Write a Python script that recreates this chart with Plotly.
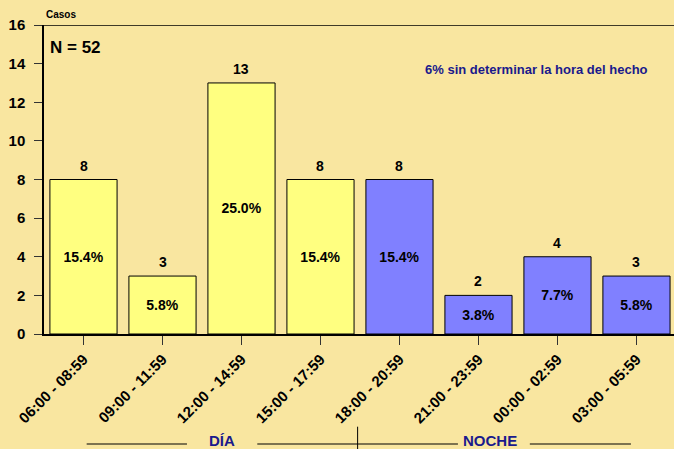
import plotly.graph_objects as go

franjas = ["06:00 - 08:59", "09:00 - 11:59", "12:00 - 14:59", "15:00 - 17:59",
           "18:00 - 20:59", "21:00 - 23:59", "00:00 - 02:59", "03:00 - 05:59"]
casos = [8, 3, 13, 8, 8, 2, 4, 3]
porcentajes = ["15.4%", "5.8%", "25.0%", "15.4%", "15.4%", "3.8%", "7.7%", "5.8%"]
periodo = ["DÍA"] * 4 + ["NOCHE"] * 4
y_ticks = list(range(0, 17, 2))

BG = "#F9E6A0"
NAVY = "#1A1A8C"
FONT = "Liberation Sans, Arial, sans-serif"
colores = ["#FFFF80" if p == "DÍA" else "#8080FF" for p in periodo]
x = list(range(len(franjas)))

fig = go.Figure()
fig.add_bar(
    x=x, y=casos, width=0.85,
    marker=dict(color=colores, line=dict(color="black", width=1)),
    text=porcentajes, textposition="inside", insidetextanchor="middle",
    textangle=0, textfont=dict(family=FONT, size=14, color="black", weight="bold"),
    showlegend=False, hoverinfo="skip",
)

# valores encima de cada barra
for i, v in zip(x, casos):
    fig.add_annotation(x=i, y=v, text=f"<b>{v}</b>", showarrow=False,
                       yshift=14, font=dict(family=FONT, size=14, color="black"))

fig.add_shape(type="line", xref="paper", yref="y", x0=0, x1=1, y0=16, y1=16,
              line=dict(color="black", width=1.5))

fig.add_annotation(xref="paper", yref="paper", x=0.0, y=1.0, yshift=11,
                   xanchor="left", yanchor="middle", text="<b>Casos</b>", showarrow=False,
                   font=dict(family=FONT, size=10, color="black"))
fig.add_annotation(xref="paper", yref="y", x=0.01, y=14.85, xanchor="left", xshift=-2,
                   text="<b>N = 52</b>", showarrow=False,
                   font=dict(family=FONT, size=17, color="black"))
fig.add_annotation(x=5.73, y=13.72, text="<b>6% sin determinar la hora del hecho</b>",
                   showarrow=False, font=dict(family=FONT, size=13, color=NAVY))

# etiquetas DÍA / NOCHE
yl = -0.356
for x0, x1 in [(0.04, 1.31), (2.2, 4.74), (5.65, 6.93)]:
    fig.add_shape(type="line", xref="x", yref="paper", x0=x0, x1=x1, y0=yl, y1=yl,
                  line=dict(color="black", width=1))
fig.add_shape(type="line", xref="x", yref="paper", x0=3.47, x1=3.47, y0=-0.30, y1=-0.40,
              line=dict(color="black", width=1))
fig.add_annotation(x=1.75, xref="x", yref="paper", y=yl, yshift=-7, text="<b>DÍA</b>",
                   showarrow=False, font=dict(family=FONT, size=15, color=NAVY))
fig.add_annotation(x=5.14, xref="x", yref="paper", y=yl, yshift=-7, text="<b>NOCHE</b>",
                   showarrow=False, font=dict(family=FONT, size=15, color=NAVY))

fig.update_layout(
    width=674, height=449,
    margin=dict(l=44, r=0, t=25, b=115),
    paper_bgcolor=BG, plot_bgcolor=BG,
    bargap=0.15,
    font=dict(family=FONT, color="black"),
    xaxis=dict(
        range=[-0.5, 7.475], tickmode="array", tickvals=x, ticktext=[f"<b>{f}</b>" for f in franjas],
        tickangle=-45, ticks="outside", ticklen=9, tickcolor="#333333",
        showline=True, linecolor="black", linewidth=1.5, showgrid=False, zeroline=False,
        tickfont=dict(family=FONT, size=15, color="black"), fixedrange=True,
    ),
    yaxis=dict(
        range=[0, 16], tickmode="array", tickvals=y_ticks, ticktext=[f"<b>{t}</b>" for t in y_ticks],
        ticks="outside", ticklen=8, tickcolor="#333333", ticklabelstandoff=6,
        showline=True, linecolor="black", linewidth=1.5, showgrid=False, zeroline=False,
        tickfont=dict(family=FONT, size=15, color="black"), fixedrange=True,
    ),
)

fig.write_html("out.html", config={"displayModeBar": False},
               post_script="document.body.style.margin='0';document.body.style.background='%s';" % BG)
